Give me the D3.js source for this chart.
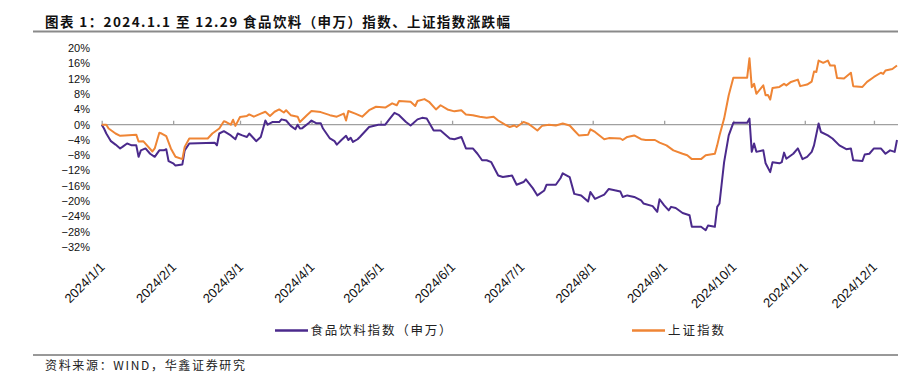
<!DOCTYPE html>
<html>
<head>
<meta charset="utf-8">
<script src="https://cdn.jsdelivr.net/npm/d3@7"></script>
<style>
  body { margin: 0; background: #fff; }
  svg { display: block; }
</style>
</head>
<body>
<svg></svg>
<script>
const [WIDTH, HEIGHT] = [898, 389]

const titleText = '图表 1：2024.1.1 至 12.29 食品饮料（申万）指数、上证指数涨跌幅'
const sourceText = '资料来源：WIND，华鑫证券研究'
const seriesNames = ['食品饮料指数（申万）', '上证指数']
const yTicks = [20, 16, 12, 8, 4, 0, -4, -8, -12, -16, -20, -24, -28, -32]

// 食品饮料（申万）累计涨跌幅 %
const foodDates = ['2024-01-01','2024-01-02','2024-01-03','2024-01-05','2024-01-07','2024-01-09','2024-01-10','2024-01-12','2024-01-14','2024-01-16','2024-01-17','2024-01-18','2024-01-20','2024-01-22','2024-01-24','2024-01-26','2024-01-28','2024-01-29','2024-01-30','2024-02-01','2024-02-02','2024-02-05','2024-02-06','2024-02-08','2024-02-19','2024-02-20','2024-02-21','2024-02-23','2024-02-26','2024-02-28','2024-02-29','2024-03-02','2024-03-04','2024-03-05','2024-03-07','2024-03-08','2024-03-10','2024-03-12','2024-03-13','2024-03-15','2024-03-18','2024-03-19','2024-03-21','2024-03-23','2024-03-25','2024-03-26','2024-03-27','2024-03-28','2024-03-31','2024-04-01','2024-04-03','2024-04-05','2024-04-06','2024-04-09','2024-04-11','2024-04-12','2024-04-14','2024-04-16','2024-04-17','2024-04-18','2024-04-19','2024-04-21','2024-04-22','2024-04-24','2024-04-26','2024-04-30','2024-05-03','2024-05-05','2024-05-07','2024-05-09','2024-05-12','2024-05-14','2024-05-15','2024-05-17','2024-05-19','2024-05-21','2024-05-24','2024-05-27','2024-05-31','2024-06-02','2024-06-05','2024-06-07','2024-06-10','2024-06-12','2024-06-14','2024-06-16','2024-06-18','2024-06-21','2024-06-23','2024-06-27','2024-06-29','2024-07-02','2024-07-03','2024-07-06','2024-07-08','2024-07-11','2024-07-12','2024-07-16','2024-07-18','2024-07-19','2024-07-22','2024-07-24','2024-07-27','2024-07-30','2024-07-31','2024-08-02','2024-08-06','2024-08-08','2024-08-11','2024-08-13','2024-08-14','2024-08-16','2024-08-19','2024-08-22','2024-08-23','2024-08-27','2024-08-29','2024-08-30','2024-09-01','2024-09-03','2024-09-04','2024-09-06','2024-09-09','2024-09-12','2024-09-13','2024-09-17','2024-09-19','2024-09-20','2024-09-23','2024-09-24','2024-09-25','2024-09-27','2024-09-29','2024-10-01','2024-10-07','2024-10-08','2024-10-09','2024-10-10','2024-10-11','2024-10-14','2024-10-15','2024-10-17','2024-10-18','2024-10-21','2024-10-22','2024-10-23','2024-10-24','2024-10-27','2024-10-29','2024-10-31','2024-11-02','2024-11-04','2024-11-05','2024-11-07','2024-11-08','2024-11-11','2024-11-13','2024-11-16','2024-11-19','2024-11-21','2024-11-22','2024-11-26','2024-11-27','2024-11-29','2024-12-01','2024-12-04','2024-12-06','2024-12-08','2024-12-10','2024-12-11']
const foodValues = [0,-1.0,-2.3,-4.3,-5.2,-6.2,-5.8,-4.9,-5.4,-5.4,-8.4,-6.7,-6.2,-7.6,-8.4,-6.7,-6.7,-6.4,-9.5,-10.1,-10.7,-10.4,-6.7,-4.9,-4.7,-5.4,-2.3,-1.7,-2.8,-3.8,-2.3,-2.8,-3.2,-2.3,-3.6,-4.3,-3.2,1.1,0,0.7,0.7,1.4,1.1,-0.3,-1.2,0,-1.0,-0.9,0.5,1.1,0.4,0.4,-1.0,-3.6,-4.3,-5.2,-4.0,-2.9,-4.0,-3.4,-4.5,-3.8,-3.2,-1.9,-0.6,0,0,1.6,3.1,2.5,0.7,-0.2,0.3,1.4,1.8,1.6,-1.5,-1.5,-3.6,-3.8,-3.2,-6.2,-6.2,-7.6,-9.3,-9.3,-9.8,-13.3,-13.7,-13.3,-15.7,-15.0,-14.3,-16.6,-18.5,-17.2,-15.7,-15.7,-14.0,-12.7,-13.7,-18.1,-18.5,-20.1,-17.6,-19.4,-18.3,-16.8,-17.2,-17.5,-18.9,-18.5,-18.9,-19.8,-20.6,-21.3,-22.8,-19.5,-21.1,-22.4,-21.5,-21.8,-23.1,-23.7,-26.7,-26.7,-27.6,-26.4,-26.7,-21.5,-20.6,-9.8,-2.8,0.5,0.5,1.6,-7.1,-4.9,-7.1,-6.7,-10.1,-12.4,-9.8,-10.1,-9.8,-7.3,-8.9,-7.6,-6.2,-9.0,-8.4,-7.1,-5.4,0.3,-1.9,-2.8,-3.6,-5.4,-6.4,-6.2,-9.3,-9.5,-7.8,-7.6,-6.2,-6.2,-7.6,-6.7,-7.1,-4.0]

// 上证指数累计涨跌幅 %
const sseDates = ['2024-01-01','2024-01-03','2024-01-04','2024-01-07','2024-01-09','2024-01-11','2024-01-16','2024-01-17','2024-01-19','2024-01-23','2024-01-24','2024-01-26','2024-01-27','2024-01-29','2024-01-31','2024-02-02','2024-02-05','2024-02-06','2024-02-08','2024-02-16','2024-02-18','2024-02-21','2024-02-23','2024-02-24','2024-02-26','2024-02-27','2024-02-28','2024-03-01','2024-03-04','2024-03-05','2024-03-07','2024-03-10','2024-03-12','2024-03-14','2024-03-16','2024-03-18','2024-03-20','2024-03-21','2024-03-23','2024-03-26','2024-03-27','2024-03-30','2024-04-01','2024-04-05','2024-04-09','2024-04-12','2024-04-15','2024-04-16','2024-04-17','2024-04-20','2024-04-23','2024-04-26','2024-04-29','2024-05-03','2024-05-06','2024-05-08','2024-05-09','2024-05-14','2024-05-16','2024-05-17','2024-05-20','2024-05-22','2024-05-25','2024-05-27','2024-05-30','2024-06-02','2024-06-05','2024-06-07','2024-06-10','2024-06-13','2024-06-16','2024-06-19','2024-06-21','2024-06-24','2024-06-26','2024-06-28','2024-06-29','2024-07-02','2024-07-04','2024-07-06','2024-07-08','2024-07-10','2024-07-13','2024-07-16','2024-07-19','2024-07-22','2024-07-24','2024-07-26','2024-07-30','2024-07-31','2024-08-02','2024-08-06','2024-08-08','2024-08-13','2024-08-14','2024-08-16','2024-08-19','2024-08-22','2024-08-24','2024-08-28','2024-08-30','2024-09-02','2024-09-05','2024-09-09','2024-09-11','2024-09-13','2024-09-17','2024-09-19','2024-09-23','2024-09-24','2024-09-25','2024-09-27','2024-09-29','2024-10-01','2024-10-07','2024-10-08','2024-10-09','2024-10-10','2024-10-11','2024-10-14','2024-10-15','2024-10-16','2024-10-17','2024-10-18','2024-10-21','2024-10-23','2024-10-24','2024-10-26','2024-10-29','2024-10-30','2024-11-02','2024-11-04','2024-11-05','2024-11-06','2024-11-07','2024-11-09','2024-11-11','2024-11-12','2024-11-14','2024-11-15','2024-11-18','2024-11-21','2024-11-22','2024-11-26','2024-11-28','2024-12-01','2024-12-04','2024-12-05','2024-12-06','2024-12-09','2024-12-11']
const sseValues = [0,0,-1.0,-2.3,-2.9,-2.8,-2.6,-4.4,-4.3,-7.0,-6.2,-2.1,-2.3,-3.0,-6.2,-8.4,-9.0,-5.8,-3.6,-3.6,-2.3,-1.0,0.9,0.7,0,1.3,-0.3,2.0,2.3,2.7,2.1,2.9,3.4,2.3,3.4,4.0,3.2,3.8,2.5,2.1,0.7,2.5,3.6,3.3,2.5,2.1,2.9,1.1,3.6,2.9,2.1,3.8,4.7,4.5,5.6,5.1,6.2,6.0,4.9,6.2,6.7,6.0,4.0,5.1,4.0,3.5,3.8,2.7,2.5,2.1,1.8,2.1,1.1,0,-0.6,-0.2,-0.6,0.7,0.3,-0.6,-1.5,-0.3,0,-0.2,0.3,-0.2,-1.5,-2.8,-2.6,-1.2,-1.9,-3.8,-3.5,-3.6,-4.0,-3.2,-2.8,-3.8,-4.0,-4.0,-4.7,-5.4,-6.7,-7.6,-8.0,-9.0,-9.0,-8.0,-7.6,-5.4,-2.8,1.6,7.7,12.3,12.3,17.4,9.8,10.7,8.1,10.3,7.7,7.8,6.6,9.6,9.9,10.7,10.3,11.2,11.8,10.1,10.5,11.3,13.9,13.8,16.8,16.2,16.8,15.5,15.5,12.2,12.1,13.6,10.1,9.9,11.2,12.5,13.6,13.3,14.2,14.6,15.5]

const colors = ['#4b2a8c', '#ef8535']
const parseDate = d3.timeParse('%Y-%m-%d')

const svg = d3.select('svg')
    .attr('width', WIDTH)
    .attr('height', HEIGHT)
    .attr('viewBox', '0 0 ' + WIDTH + ' ' + HEIGHT)
    .style('font-family', '"Liberation Sans", Arial, sans-serif')

svg.append('rect').attr('width', WIDTH).attr('height', HEIGHT).attr('fill', '#fff')

// title
svg.append('text')
    .attr('x', 45).attr('y', 26.5)
    .attr('textLength', 465).attr('lengthAdjust', 'spacing')
    .style('font-family', '"Noto Sans CJK SC", sans-serif')
    .style('font-weight', 700)
    .style('font-size', '13.5px')
    .attr('fill', '#111')
    .text(titleText)
svg.append('line')
    .attr('x1', 33).attr('x2', WIDTH).attr('y1', 31.5).attr('y2', 31.5)
    .attr('stroke', '#8a8a8a').attr('stroke-width', 2)

const x = d3.scaleTime()
    .domain([parseDate('2024-01-01'), parseDate('2024-12-11')])
    .range([101.7, 897])
const y = d3.scaleLinear().domain([-32, 20]).range([247, 48.3])

// y labels
svg.append('g')
    .selectAll('text')
    .data(yTicks)
    .join('text')
    .attr('x', 90)
    .attr('y', d => y(d))
    .attr('dy', '0.35em')
    .attr('text-anchor', 'end')
    .style('font-size', '11px')
    .attr('fill', '#111')
    .text(d => (d < 0 ? '\u2212' + Math.abs(d) : d) + '%')

// zero line with month ticks
const months = d3.timeMonth.range(parseDate('2024-01-01'), parseDate('2024-12-02'))
const axis = svg.append('g')
    .attr('transform', 'translate(0,' + y(0) + ')')
    .call(d3.axisTop(x).tickValues(months).tickSize(4).tickSizeOuter(0).tickFormat(''))
axis.select('.domain').attr('stroke', '#a0a0a0').attr('stroke-width', 1.3)
    .attr('d', 'M' + x.range()[0] + ',0H' + WIDTH)
axis.selectAll('.tick line').attr('stroke', '#a0a0a0').attr('stroke-width', 1.3)

// x labels at bottom
const fmt = d3.timeFormat('%Y/%-m/%-d')
svg.append('g')
    .selectAll('text')
    .data(months)
    .join('text')
    .attr('transform', d => 'translate(' + (x(d) + 4) + ',268) rotate(-45)')
    .attr('text-anchor', 'end')
    .style('font-size', '13px')
    .attr('fill', '#111')
    .text(fmt)

// series
const line = d3.line().x(d => x(d[0])).y(d => y(d[1]))
const seriesData = [
    foodDates.map((d, i) => [parseDate(d), foodValues[i]]),
    sseDates.map((d, i) => [parseDate(d), sseValues[i]])
]
svg.append('g')
    .selectAll('path')
    .data(seriesData)
    .join('path')
    .attr('d', line)
    .attr('fill', 'none')
    .attr('stroke', (_, i) => colors[i])
    .attr('stroke-width', 2)
    .attr('stroke-linejoin', 'round')

// legend
const legendPos = [[275, 310.5, 141], [632, 668, 56]]
const legend = svg.append('g').selectAll('g').data(seriesNames).join('g')
legend.append('line')
    .attr('x1', (_, i) => legendPos[i][0])
    .attr('x2', (_, i) => legendPos[i][0] + 33)
    .attr('y1', 330.5).attr('y2', 330.5)
    .attr('stroke', (_, i) => colors[i])
    .attr('stroke-width', 2.5)
legend.append('text')
    .attr('x', (_, i) => legendPos[i][1])
    .attr('y', 335)
    .attr('textLength', (_, i) => legendPos[i][2])
    .attr('lengthAdjust', 'spacing')
    .style('font-family', '"Noto Sans CJK SC", sans-serif')
    .style('font-size', '12.5px')
    .attr('fill', '#222')
    .text(d => d)

// source
svg.append('line')
    .attr('x1', 33).attr('x2', WIDTH).attr('y1', 355).attr('y2', 355)
    .attr('stroke', '#333').attr('stroke-width', 1)
svg.append('text')
    .attr('x', 45).attr('y', 369.5)
    .attr('textLength', 200).attr('lengthAdjust', 'spacing')
    .style('font-family', '"Noto Sans CJK SC", sans-serif')
    .style('font-size', '12px')
    .attr('fill', '#222')
    .text(sourceText)
</script>
</body>
</html>
